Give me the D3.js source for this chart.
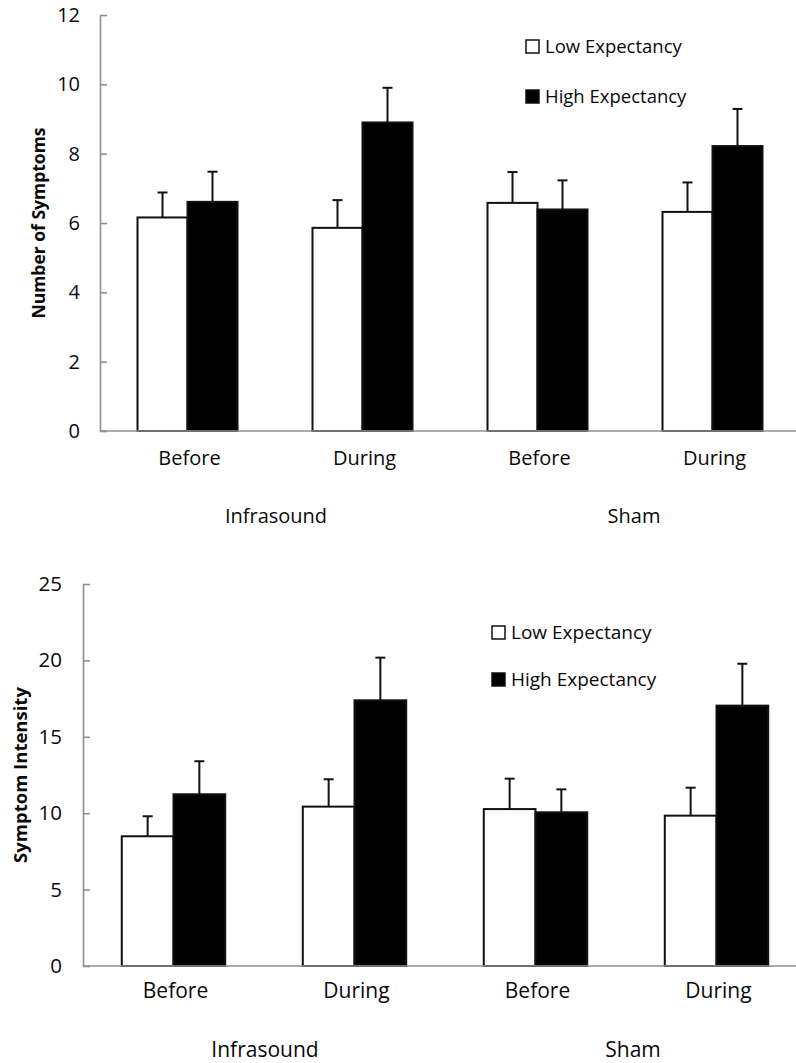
<!DOCTYPE html>
<html><head>
<meta charset="utf-8">
<script src="https://d3js.org/d3.v7.min.js"></script>
<style>
body { margin: 0; background: #fff; }
text { font-family: 'Open Sans', sans-serif; fill: #0a0a0a; }
</style>
</head>
<body>
<svg id="chart" width="796" height="1063"></svg>
<script>
// categories and series
const times = ["Before", "During", "Before", "During"];
const groups = ["Infrasound", "Sham"];
const series = ["Low Expectancy", "High Expectancy"];

// panel 1: number of symptoms (mean, standard error)
const symptomsLow = [6.16, 5.86, 6.58, 6.32];
const symptomsLowErr = [0.72, 0.80, 0.89, 0.85];
const symptomsHigh = [6.61, 8.90, 6.39, 8.22];
const symptomsHighErr = [0.87, 1.00, 0.84, 1.07];
const symptomsTicks = [0, 2, 4, 6, 8, 10, 12];

// panel 2: symptom intensity
const intensityLow = [8.49, 10.43, 10.27, 9.84];
const intensityLowErr = [1.31, 1.79, 1.99, 1.83];
const intensityHigh = [11.24, 17.39, 10.06, 17.04];
const intensityHighErr = [2.16, 2.79, 1.50, 2.74];
const intensityTicks = [0, 5, 10, 15, 20, 25];

const svg = d3.select("#chart");

function drawPanel(opt) {
    const g = svg.append("g");

    const x0 = d3.scaleBand().domain(d3.range(times.length))
        .range([opt.left, opt.right]).padding(0);
    const x1 = d3.scaleBand().domain(series)
        .range([0, x0.bandwidth()]).paddingInner(0).paddingOuter(0.75);
    const y = d3.scaleLinear().domain([0, d3.max(opt.ticks)])
        .range([opt.bottom, opt.top]);

    const rows = [];
    times.forEach((t, i) => {
        rows.push({i: i, s: series[0], v: opt.low[i], e: opt.lowErr[i]});
        rows.push({i: i, s: series[1], v: opt.high[i], e: opt.highErr[i]});
    });

    // error bars (upper only)
    const err = g.selectAll("g.err").data(rows).join("g").attr("class", "err")
        .attr("stroke", "#111").attr("stroke-width", 2);
    err.append("line")
        .attr("x1", d => x0(d.i) + x1(d.s) + x1.bandwidth() / 2)
        .attr("x2", d => x0(d.i) + x1(d.s) + x1.bandwidth() / 2)
        .attr("y1", d => y(d.v))
        .attr("y2", d => y(d.v + d.e));
    err.append("line")
        .attr("x1", d => x0(d.i) + x1(d.s) + x1.bandwidth() / 2 - 5)
        .attr("x2", d => x0(d.i) + x1(d.s) + x1.bandwidth() / 2 + 5)
        .attr("y1", d => y(d.v + d.e))
        .attr("y2", d => y(d.v + d.e));

    // bars
    g.selectAll("rect.bar").data(rows).join("rect")
        .attr("class", "bar")
        .attr("x", d => x0(d.i) + x1(d.s))
        .attr("width", x1.bandwidth())
        .attr("y", d => y(d.v))
        .attr("height", d => y(0) - y(d.v))
        .attr("fill", d => d.s === series[0] ? "#fff" : "#000")
        .attr("stroke", "#111")
        .attr("stroke-width", 2);

    // y axis, ticks inside
    const yAxis = g.append("g")
        .attr("transform", "translate(" + opt.left + ",0)")
        .call(d3.axisLeft(y).tickValues(opt.ticks).tickSizeInner(-7).tickSizeOuter(0)
            .tickPadding(opt.tickPad));
    yAxis.select(".domain").attr("stroke", "#8f8f8f").attr("stroke-width", 1.6);
    yAxis.selectAll(".tick line").attr("stroke", "#8f8f8f").attr("stroke-width", 1.6);
    yAxis.selectAll(".tick text").attr("font-size", opt.tickFont)
        .attr("font-family", "'Open Sans', sans-serif").attr("fill", "#0a0a0a");

    // x axis line
    g.append("line")
        .attr("x1", opt.left).attr("x2", opt.right)
        .attr("y1", y(0)).attr("y2", y(0))
        .attr("stroke", "#8f8f8f").attr("stroke-width", 1.6);

    // category labels
    g.selectAll("text.cat").data(times).join("text")
        .attr("class", "cat")
        .attr("x", (d, i) => x0(i) + x0.bandwidth() / 2 + 2)
        .attr("y", y(0) + opt.catGap)
        .attr("text-anchor", "middle")
        .attr("font-size", opt.catFont)
        .text(d => d);

    // group labels
    g.selectAll("text.grp").data(groups).join("text")
        .attr("class", "grp")
        .attr("x", (d, k) => x0(2 * k + 1) + opt.grpShift[k])
        .attr("y", y(0) + opt.grpGap)
        .attr("text-anchor", "middle")
        .attr("font-size", opt.catFont)
        .text(d => d);

    // y title
    g.append("text")
        .attr("transform", "translate(" + opt.titleX + "," + ((opt.top + opt.bottom) / 2 + opt.titleDy) + ") rotate(-90)")
        .attr("text-anchor", "middle")
        .attr("font-size", opt.titleFont)
        .attr("font-weight", "bold")
        .text(opt.title);

    // legend
    const leg = g.selectAll("g.leg").data(series).join("g").attr("class", "leg")
        .attr("transform", (d, k) => "translate(" + opt.legX + "," + (opt.legY + k * opt.legStep) + ")");
    leg.append("rect")
        .attr("x", 0).attr("y", -13).attr("width", 13).attr("height", 13)
        .attr("fill", (d, k) => k === 0 ? "#fff" : "#000")
        .attr("stroke", "#111").attr("stroke-width", 1.5);
    leg.append("text")
        .attr("x", 19).attr("y", 0)
        .attr("font-size", opt.legFont)
        .text(d => d);
}

drawPanel({
    low: symptomsLow, lowErr: symptomsLowErr, high: symptomsHigh, highErr: symptomsHighErr,
    ticks: symptomsTicks, title: "Number of Symptoms",
    left: 100, right: 800, top: 15, bottom: 431,
    tickPad: 20, tickFont: 20, catFont: 20, catGap: 34, grpGap: 92, grpShift: [1, 9],
    titleX: 45, titleDy: 0, titleFont: 17.5,
    legX: 526, legY: 53, legStep: 50, legFont: 18.5
});

drawPanel({
    low: intensityLow, lowErr: intensityLowErr, high: intensityHigh, highErr: intensityHighErr,
    ticks: intensityTicks, title: "Symptom Intensity",
    left: 83, right: 807, top: 584, bottom: 966,
    tickPad: 21, tickFont: 20.5, catFont: 21, catGap: 32, grpGap: 91, grpShift: [1, 7],
    titleX: 27, titleDy: 0, titleFont: 18.5,
    legX: 492, legY: 639, legStep: 47, legFont: 19
});
</script>
</body>
</html>
